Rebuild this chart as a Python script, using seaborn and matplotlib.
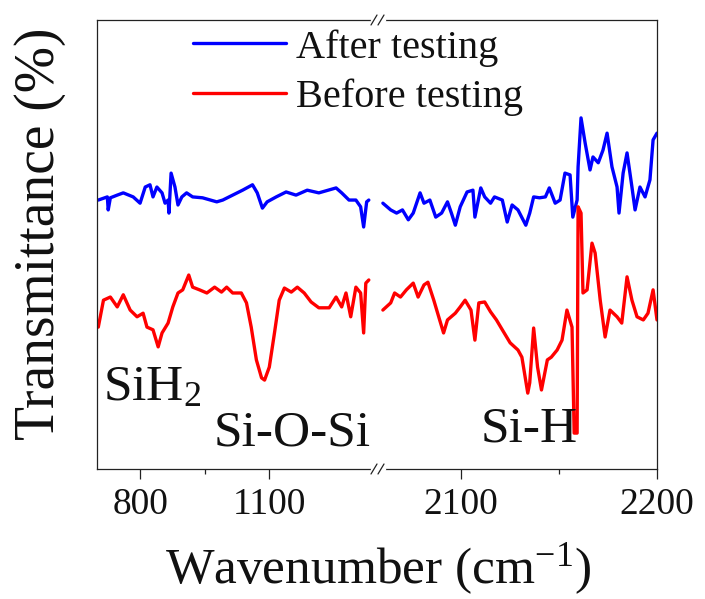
import numpy as np
import pandas as pd
import matplotlib
matplotlib.use("Agg")
import matplotlib.pyplot as plt
from matplotlib.lines import Line2D
import seaborn as sns

# FTIR spectra (transmittance in a.u.)
wn_left_after = [703, 724, 726, 731, 747, 761, 784, 800, 812, 823, 830, 839, 851, 858, 865,
                 867, 872, 881, 888, 897, 908, 922, 945, 978, 992, 1015, 1038, 1061, 1072, 1084,
                 1095, 1116, 1139, 1162, 1188, 1215, 1255, 1268, 1285, 1301, 1312, 1319, 1326, 1331]
t_left_after = [59.9, 60.6, 57.7, 60.4, 61.0, 61.5, 60.6, 59.2, 62.8, 63.3, 60.6, 62.8, 61.5, 59.2, 59.9,
                57.0, 65.9, 62.8, 58.8, 60.6, 61.5, 60.6, 60.4, 59.5, 59.9, 61.0, 62.1, 63.3, 61.5, 58.1,
                59.5, 60.6, 61.7, 61.0, 62.1, 61.5, 62.6, 61.5, 59.9, 59.9, 58.4, 53.9, 59.5, 59.9]

wn_left_before = [703, 715, 731, 747, 761, 777, 793, 807, 816, 830, 842, 851, 865, 876, 888,
                  899, 913, 922, 938, 955, 973, 989, 1001, 1015, 1035, 1047, 1058, 1070, 1082, 1089,
                  1100, 1112, 1123, 1135, 1151, 1165, 1181, 1197, 1215, 1239, 1255, 1268, 1278, 1289,
                  1301, 1312, 1319, 1324, 1331]
t_left_before = [31.6, 37.6, 38.3, 36.1, 38.8, 35.4, 33.9, 34.7, 31.6, 31.0, 27.2, 30.3, 32.5, 36.1, 39.2,
                 39.9, 43.2, 40.5, 39.9, 39.2, 40.5, 39.4, 40.5, 39.2, 39.2, 37.0, 31.6, 24.3, 20.3, 19.8,
                 22.7, 30.3, 37.6, 40.3, 39.4, 40.5, 39.2, 37.2, 35.9, 35.9, 38.3, 36.1, 39.2, 33.9,
                 40.5, 39.2, 30.3, 41.4, 42.1]

wn_right_after = [2060, 2064, 2067, 2070, 2073, 2075.5, 2079, 2081, 2084, 2087, 2090, 2093, 2095, 2097, 2099.5,
                  2103, 2106, 2107, 2110, 2112, 2115, 2117, 2121, 2123.5, 2126, 2129, 2133, 2135, 2137, 2140,
                  2143, 2145, 2148, 2150.5, 2153, 2155.6, 2157, 2159.2, 2159.7, 2161.2, 2163.3, 2165.8, 2167.3,
                  2170, 2172.4, 2174.5, 2177, 2179.6, 2180.6, 2182.7, 2184.7, 2187.2, 2188.8, 2191.3, 2193.9,
                  2196.4, 2198, 2200]
t_right_after = [59.2, 57.7, 57.0, 57.7, 55.5, 57.0, 61.5, 59.2, 59.9, 56.1, 57.0, 59.5, 57.0, 54.3, 58.4,
                 61.7, 62.1, 56.1, 62.6, 60.6, 59.2, 60.6, 59.9, 55.0, 58.8, 57.7, 54.3, 57.0, 60.6, 60.4,
                 60.6, 62.6, 59.2, 59.9, 65.9, 65.5, 56.1, 59.9, 67.3, 78.2, 72.6, 66.6, 69.5,
                 68.2, 71.0, 74.8, 67.3, 62.8, 57.0, 65.9, 70.4, 62.8, 57.7, 62.8, 60.6,
                 64.4, 73.3, 74.8]

wn_right_before = [2060, 2064, 2066, 2069, 2072, 2075.5, 2078, 2081, 2083, 2086, 2089, 2091, 2093, 2097, 2099.5,
                   2102, 2105, 2107, 2109, 2112, 2115, 2118, 2121, 2125, 2129, 2131, 2134, 2135, 2137, 2139,
                   2141, 2144, 2146, 2149, 2151.5, 2154, 2156.6, 2157.7, 2159.2, 2159.7, 2161.2, 2162.2, 2164.3,
                   2166.8, 2168.4, 2171, 2173.5, 2176, 2179.6, 2182, 2184.7, 2187.2, 2189.8, 2193, 2195.4,
                   2198, 2200]
t_right_before = [35.4, 37.0, 39.2, 38.3, 39.9, 41.4, 38.3, 41.0, 41.6, 37.6, 33.2, 30.3, 33.2, 34.7, 36.1,
                  37.6, 35.4, 28.7, 37.0, 37.2, 35.0, 33.2, 31.0, 28.1, 26.5, 24.9, 16.9, 19.2, 31.4, 22.7,
                  17.6, 24.3, 24.9, 26.5, 28.7, 35.4, 31.6, 8.0, 8.0, 58.4, 57.0, 39.2, 39.9,
                  50.3, 48.1, 37.6, 29.4, 35.4, 33.9, 32.5, 42.8, 37.6, 33.9, 33.2, 34.7,
                  39.9, 33.2]

labels = ["After testing", "Before testing"]
colors = ["#0000ff", "#ff0000"]
xticks_left = [800, 1100]
xticks_right = [2100, 2200]

sns.set_theme(style="ticks")
plt.rcParams["font.family"] = ["Liberation Serif", "DejaVu Serif"]
plt.rcParams["mathtext.fontset"] = "custom"
plt.rcParams["mathtext.rm"] = "Liberation Serif"
plt.rcParams["mathtext.it"] = "Liberation Serif:italic"
plt.rcParams["text.color"] = "#111111"
plt.rcParams["xtick.color"] = "#111111"
plt.rcParams["xtick.labelcolor"] = "#111111"

W, H = 705, 599
fig, (ax1, ax2) = plt.subplots(1, 2, figsize=(W / 100, H / 100), dpi=100, sharey=True)
fig.subplots_adjust(left=97 / W, right=657 / W, top=1 - 20 / H, bottom=1 - 469 / H, wspace=0)

segments = [
    (ax1, wn_left_after, t_left_after, wn_left_before, t_left_before),
    (ax2, wn_right_after, t_right_after, wn_right_before, t_right_before),
]
for ax, wa, ta, wb, tb in segments:
    df_a = pd.DataFrame({"wn": wa, "T": ta})
    df_b = pd.DataFrame({"wn": wb, "T": tb})
    sns.lineplot(data=df_a, x="wn", y="T", color=colors[0], lw=2.4, sort=False,
                 estimator=None, ax=ax, label=labels[0] if ax is ax1 else None, legend=False)
    sns.lineplot(data=df_b, x="wn", y="T", color=colors[1], lw=2.4, sort=False,
                 estimator=None, ax=ax, label=labels[1] if ax is ax1 else None, legend=False)

ax1.set_xlim(700, 1350)
ax2.set_xlim(2057, 2200)
ax1.set_ylim(0, 100)
ax1.set_xticks(xticks_left)
ax1.set_xticks([950], minor=True)
ax2.set_xticks(xticks_right)
ax2.set_xticks([2150], minor=True)

for ax in (ax1, ax2):
    ax.set_xlabel("")
    ax.set_ylabel("")
    ax.tick_params(axis="x", which="major", direction="out", length=7, width=0.9,
                   labelsize=27, pad=6, color="#222222")
    ax.tick_params(axis="x", which="minor", direction="out", length=3.5, width=0.9, color="#222222")
    ax.tick_params(axis="y", left=False, labelleft=False)
    for s in ax.spines.values():
        s.set_linewidth(0.9)
        s.set_color("#222222")
ax1.spines["right"].set_visible(False)
ax2.spines["left"].set_visible(False)

# break marks "//" on top and bottom spines
bx = 378
for yb in (20, 469):
    fig.add_artist(Line2D([(bx - 6) / W, (bx + 6) / W], [1 - yb / H, 1 - yb / H],
                          color="white", lw=2.5, transform=fig.transFigure))
    for dx in (-4, 3):
        fig.add_artist(Line2D([(bx + dx - 3) / W, (bx + dx + 3) / W],
                              [1 - (yb + 5) / H, 1 - (yb - 5) / H],
                              color="#222222", lw=0.9, transform=fig.transFigure))

handles, labs = ax1.get_legend_handles_labels()
fig.legend(handles, labs, loc="upper left", bbox_to_anchor=(193 / W, 1 - 29 / H),
           frameon=False, fontsize=29, handlelength=2.3, handletextpad=0.25,
           labelspacing=0.3, borderpad=0, borderaxespad=0)

fig.text(103 / W, 1 - 400 / H, "SiH$_2$", fontsize=37, va="baseline", ha="left")
fig.text(214 / W, 1 - 445 / H, "Si-O-Si", fontsize=37, va="baseline", ha="left")
fig.text(481 / W, 1 - 442 / H, "Si-H", fontsize=37, va="baseline", ha="left")

fig.text(40 / W, 1 - 234 / H, "Transmittance (%)", fontsize=40, rotation=90,
         ha="center", va="center")
fig.text(378 / W, 1 - 583 / H, "Wavenumber (cm$^{-1}$)", fontsize=37,
         ha="center", va="baseline")

fig.savefig("out.png", dpi=100)
